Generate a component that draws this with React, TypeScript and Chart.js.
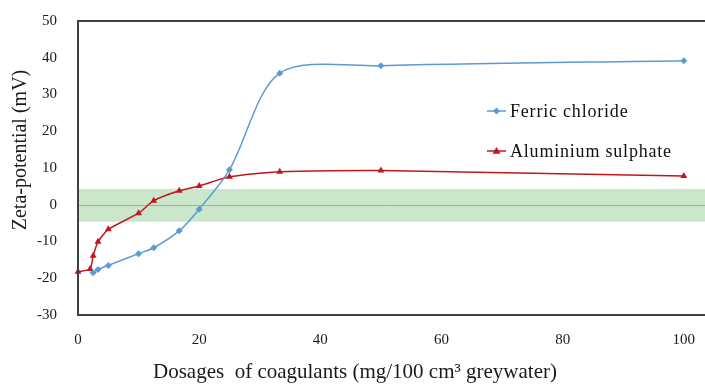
import React, { useEffect, useRef } from 'react';
import { Chart, registerables } from 'chart.js';
Chart.register(...registerables);

const SERIF = '"Liberation Serif", "Times New Roman", "DejaVu Serif", serif';

const ferricDose = [2.5, 3.3, 5, 10, 12.5, 16.7, 20, 25, 33.3, 50, 100];
const ferricZeta = [-18.5, -17.6, -16.5, -13.3, -11.7, -7.1, -1.2, 9.5, 35.8, 37.8, 39.2];
const alumDose = [0, 2, 2.5, 3.3, 5, 10, 12.5, 16.7, 20, 25, 33.3, 50, 100];
const alumZeta = [-18.2, -17.5, -13.9, -10.1, -6.7, -2.3, 1.1, 3.8, 5.1, 7.6, 9.0, 9.3, 7.8];
const seriesNames = ['Ferric chloride', 'Aluminium sulphate'];
const bandHigh = 4.3;
const bandLow = -4.6;
const xTitle = 'Dosages  of coagulants (mg/100 cm\u00B3 greywater)';
const yTitle = 'Zeta-potential (mV)';

const BLUE = '#5b9bd5';
const RED = '#c0171f';

export default function App() {
  const ref = useRef<HTMLCanvasElement>(null);
  useEffect(() => {
    if (!ref.current) return;
    const drawDiamond = (ctx: CanvasRenderingContext2D, cx: number, cy: number, r: number, c: string) => {
      ctx.beginPath();
      ctx.moveTo(cx, cy - r); ctx.lineTo(cx + r, cy); ctx.lineTo(cx, cy + r); ctx.lineTo(cx - r, cy); ctx.closePath();
      ctx.fillStyle = c; ctx.fill();
    };
    const drawTri = (ctx: CanvasRenderingContext2D, cx: number, cy: number, r: number, c: string) => {
      ctx.beginPath();
      ctx.moveTo(cx, cy - r); ctx.lineTo(cx + r, cy + r * 0.7); ctx.lineTo(cx - r, cy + r * 0.7); ctx.closePath();
      ctx.fillStyle = c; ctx.fill();
    };
    const decor = {
      id: 'decor',
      beforeDatasetsDraw(chart: any) {
        const { ctx, chartArea: a, scales } = chart;
        const y = scales.y;
        ctx.save();
        const yt = y.getPixelForValue(bandHigh);
        const yb = y.getPixelForValue(bandLow);
        ctx.fillStyle = '#cbe7cb';
        ctx.fillRect(a.left, yt, a.right - a.left, yb - yt);
        const y0 = y.getPixelForValue(0);
        ctx.strokeStyle = '#8cbf8c';
        ctx.lineWidth = 1;
        ctx.beginPath();
        ctx.moveTo(a.left, Math.round(y0) + 0.5);
        ctx.lineTo(a.right, Math.round(y0) + 0.5);
        ctx.stroke();
        ctx.restore();
      },
      afterDraw(chart: any) {
        const { ctx, chartArea: a } = chart;
        ctx.save();
        ctx.strokeStyle = '#404040';
        ctx.lineWidth = 2;
        ctx.beginPath();
        ctx.moveTo(a.right, a.top);
        ctx.lineTo(a.left, a.top);
        ctx.lineTo(a.left, a.bottom);
        ctx.lineTo(a.right, a.bottom);
        ctx.stroke();
        // titles
        ctx.fillStyle = '#1a1a1a';
        ctx.font = `21px ${SERIF}`;
        ctx.textAlign = 'center';
        ctx.textBaseline = 'middle';
        ctx.fillText(xTitle, 355, 372);
        ctx.font = `20px ${SERIF}`;
        ctx.save();
        ctx.translate(21, 150);
        ctx.rotate(-Math.PI / 2);
        ctx.fillText(yTitle, 0, 0);
        ctx.restore();
        // legend
        ctx.font = `18px ${SERIF}`;
        (ctx as any).letterSpacing = '0.8px';
        ctx.textAlign = 'left';
        ctx.lineWidth = 1.5;
        ctx.strokeStyle = BLUE;
        ctx.beginPath(); ctx.moveTo(487, 111); ctx.lineTo(506, 111); ctx.stroke();
        drawDiamond(ctx, 496.5, 111, 3.5, BLUE);
        ctx.fillStyle = '#111';
        ctx.fillText(seriesNames[0], 510, 112);
        ctx.strokeStyle = RED;
        ctx.beginPath(); ctx.moveTo(487, 151); ctx.lineTo(506, 151); ctx.stroke();
        drawTri(ctx, 496.5, 151, 4, RED);
        ctx.fillStyle = '#111';
        ctx.fillText(seriesNames[1], 510, 152);
        ctx.restore();
      },
    };
    const chart = new Chart(ref.current, {
      type: 'line',
      data: {
        datasets: [
          {
            label: seriesNames[0],
            data: ferricDose.map((d, i) => ({ x: d, y: ferricZeta[i] })),
            borderColor: BLUE,
            backgroundColor: BLUE,
            borderWidth: 1.5,
            pointStyle: 'rectRot',
            pointRadius: 3.5,
            pointBorderWidth: 0,
            tension: 0.3,
            clip: false as any,
          },
          {
            label: seriesNames[1],
            data: alumDose.map((d, i) => ({ x: d, y: alumZeta[i] })),
            borderColor: RED,
            backgroundColor: RED,
            borderWidth: 1.5,
            pointStyle: 'triangle',
            pointRadius: 4,
            pointBorderWidth: 0,
            tension: 0.2,
            clip: false as any,
          },
        ],
      },
      options: {
        animation: false,
        responsive: true,
        maintainAspectRatio: false,
        layout: { autoPadding: false, padding: { top: 21, left: 0, right: 0, bottom: 0 } },
        plugins: { legend: { display: false }, tooltip: { enabled: false } },
        scales: {
          x: {
            type: 'linear',
            min: 0,
            max: 103.5,
            grid: { display: false, drawTicks: false },
            border: { display: false },
            ticks: { stepSize: 20, includeBounds: false, padding: 16, color: '#1a1a1a', font: { family: SERIF, size: 15 } },
            afterFit: (s: any) => { s.height = 70; s.paddingLeft = 0; s.paddingRight = 0; },
          },
          y: {
            type: 'linear',
            min: -30,
            max: 50,
            grid: { display: false, drawTicks: false },
            border: { display: false },
            ticks: { stepSize: 10, padding: 21, color: '#1a1a1a', font: { family: SERIF, size: 15 } },
            afterFit: (s: any) => { s.width = 78; s.paddingTop = 0; s.paddingBottom = 0; },
          },
        },
      },
      plugins: [decor],
    });
    return () => chart.destroy();
  }, []);
  return (
    <div style={{ position: 'fixed', left: 0, top: 0, width: 705, height: 385, background: '#fff' }}>
      <canvas ref={ref} />
    </div>
  );
}
